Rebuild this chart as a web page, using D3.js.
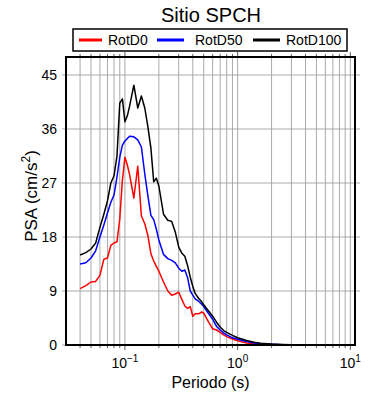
<!DOCTYPE html>
<html>
<head>
<meta charset="utf-8">
<script src="https://cdn.jsdelivr.net/npm/d3@7"></script>
<style>
  body { margin: 0; background: #fff; }
  svg { display: block; font-family: "Liberation Sans", Arial, sans-serif; }
</style>
</head>
<body>
<div id="chart"></div>
<script>

// periods (s) and spectral values
const periods = [0.040, 0.045, 0.050, 0.055, 0.060, 0.065, 0.070, 0.075, 0.080, 0.085,
  0.090, 0.095, 0.100, 0.105, 0.110, 0.120, 0.130, 0.140, 0.150, 0.160,
  0.170, 0.180, 0.190, 0.200, 0.220, 0.240, 0.260, 0.280, 0.300, 0.320,
  0.340, 0.360, 0.380, 0.400, 0.420, 0.450, 0.480, 0.500, 0.550, 0.600,
  0.650, 0.700, 0.750, 0.800, 0.900, 1.0, 1.2, 1.4, 1.6, 2.0,
  2.5, 3.0, 4.0, 5.0, 7.0, 10.0];

const rotD0 = [9.4, 9.9, 10.5, 10.6, 11.6, 14.3, 14.5, 16.6, 17.0, 17.2,
  21.0, 27.5, 31.3, 30.0, 28.4, 24.5, 29.8, 21.5, 20.2, 18.2,
  15.2, 14.0, 13.1, 12.3, 10.5, 9.0, 8.3, 8.5, 8.8, 7.6,
  6.5, 6.1, 6.4, 4.8, 5.2, 5.2, 5.5, 5.3, 3.9, 2.7,
  2.5, 2.1, 1.7, 1.4, 1.0, 0.7, 0.35, 0.18, 0.1, 0.06,
  0.04, 0.03, 0.02, 0.01, 0.01, 0.01];

const rotD50 = [13.5, 13.7, 14.5, 15.7, 18.0, 20.0, 22.0, 23.8, 25.0, 28.0,
  31.3, 33.3, 34.0, 34.4, 34.8, 34.7, 34.2, 33.0, 28.5, 24.8,
  21.6, 20.9, 19.3, 17.5, 15.1, 14.4, 14.1, 13.7, 12.8, 12.3,
  12.5, 11.2, 9.0, 8.3, 7.7, 7.3, 6.8, 6.4, 5.3, 4.3,
  3.1, 2.5, 2.0, 1.7, 1.2, 0.95, 0.6, 0.35, 0.22, 0.12,
  0.06, 0.04, 0.025, 0.015, 0.01, 0.01];

const rotD100 = [15.0, 15.4, 16.0, 17.0, 19.6, 21.8, 24.0, 27.0, 28.2, 31.5,
  40.3, 41.0, 37.2, 38.2, 39.8, 43.3, 39.5, 41.5, 39.5, 36.3,
  32.8, 27.2, 27.8, 26.5, 21.8, 20.8, 20.6, 18.8, 16.3, 15.3,
  14.8, 13.2, 11.3, 9.8, 8.6, 7.8, 7.2, 6.7, 5.7, 4.8,
  3.8, 3.0, 2.4, 2.1, 1.6, 1.2, 0.75, 0.45, 0.3, 0.15,
  0.08, 0.05, 0.03, 0.02, 0.015, 0.01];

const seriesNames = ["RotD0", "RotD50", "RotD100"];
const seriesColors = ["#ff0000", "#0000ff", "#000000"];

const yTicks = [0, 9, 18, 27, 36, 45];
const xMajorTicks = [0.1, 1, 10];
const xMajorExponents = ["\u22121", "0", "1"];
const xGridTicks = [0.04, 0.05, 0.06, 0.07, 0.08, 0.09,
  0.1, 0.2, 0.3, 0.4, 0.5, 0.6, 0.7, 0.8, 0.9,
  1, 2, 3, 4, 5, 6, 7, 8, 9, 10];

const width = 390;
const height = 400;
const margin = { top: 57, right: 35, bottom: 55, left: 66 };
const innerWidth = width - margin.left - margin.right;
const innerHeight = height - margin.top - margin.bottom;

const gridColor = "#a0a0a0";

const svg = d3.select("#chart")
  .append("svg")
    .attr("width", width)
    .attr("height", height);

const xScale = d3.scaleLog()
  .domain([0.03, 11])
  .range([0, innerWidth]);

const yScale = d3.scaleLinear()
  .domain([0, 48])
  .range([innerHeight, 0]);

const innerChart = svg
  .append("g")
    .attr("transform", `translate(${margin.left}, ${margin.top})`);

// grid
innerChart
  .append("g")
    .attr("class", "grid-x")
  .selectAll("line")
  .data(xGridTicks)
  .join("line")
    .attr("x1", d => xScale(d))
    .attr("x2", d => xScale(d))
    .attr("y1", 0)
    .attr("y2", innerHeight)
    .attr("stroke", gridColor)
    .attr("stroke-width", 0.9);

innerChart
  .append("g")
    .attr("class", "grid-y")
  .selectAll("line")
  .data(yTicks.filter(d => d > 0))
  .join("line")
    .attr("x1", -4)            // runs past the frame as a tick on both sides
    .attr("x2", innerWidth + 5)
    .attr("y1", d => yScale(d))
    .attr("y2", d => yScale(d))
    .attr("stroke", gridColor)
    .attr("stroke-width", 0.9);

// small ticks on bottom and top, longer on decades
const xTickGroup = innerChart.append("g").attr("class", "x-ticks");
[[innerHeight, 1], [0, -1]].forEach(([y0, dir]) => {
  xTickGroup
    .append("g")
    .selectAll("line")
    .data(xGridTicks)
    .join("line")
      .attr("x1", d => xScale(d))
      .attr("x2", d => xScale(d))
      .attr("y1", y0)
      .attr("y2", d => y0 + dir * (xMajorTicks.includes(d) ? 5 : 3))
      .attr("stroke", "#333")
      .attr("stroke-width", 0.8);
});

innerChart
  .append("line")
    .attr("x1", -4)
    .attr("x2", 0)
    .attr("y1", yScale(0))
    .attr("y2", yScale(0))
    .attr("stroke", gridColor)
    .attr("stroke-width", 0.9);

// curves
const allSeries = [rotD0, rotD50, rotD100];

const lineGenerator = d3.line()
  .x(d => xScale(d[0]))
  .y(d => yScale(d[1]));

innerChart
  .append("g")
    .attr("class", "curves")
  .selectAll("path")
  .data(allSeries)
  .join("path")
    .attr("d", values => lineGenerator(periods.map((p, i) => [p, values[i]])))
    .attr("fill", "none")
    .attr("stroke", (d, i) => seriesColors[i])
    .attr("stroke-width", 1.5)
    .attr("stroke-linejoin", "round");

// frame
innerChart
  .append("rect")
    .attr("width", innerWidth)
    .attr("height", innerHeight)
    .attr("fill", "none")
    .attr("stroke", "#000")
    .attr("stroke-width", 2);

// y tick labels
innerChart
  .append("g")
  .selectAll("text")
  .data(yTicks)
  .join("text")
    .attr("x", -9)
    .attr("y", d => yScale(d) + 5)
    .attr("text-anchor", "end")
    .attr("font-size", 14)
    .text(d => d);

// x tick labels as 10^n
const xLabels = innerChart
  .append("g")
  .selectAll("text")
  .data(xMajorTicks)
  .join("text")
    .attr("x", d => xScale(d))
    .attr("y", innerHeight + 23)
    .attr("text-anchor", "middle")
    .attr("font-size", 14);

xLabels.append("tspan").text("10");
xLabels.append("tspan")
    .attr("dy", -6)
    .attr("font-size", 10)
    .text((d, i) => xMajorExponents[i]);

// axis titles
svg
  .append("text")
    .attr("x", margin.left + innerWidth / 2)
    .attr("y", 388)
    .attr("text-anchor", "middle")
    .attr("font-size", 16)
    .text("Periodo (s)");

const yTitle = svg
  .append("text")
    .attr("transform", `translate(37, ${margin.top + innerHeight / 2 - 5}) rotate(-90)`)
    .attr("text-anchor", "middle")
    .attr("font-size", 17);

yTitle.append("tspan").text("PSA (cm/s");
yTitle.append("tspan").attr("dy", -7).attr("font-size", 12).text("2");
yTitle.append("tspan").attr("dy", 7).text(")");

// title
svg
  .append("text")
    .attr("x", 211)
    .attr("y", 22)
    .attr("text-anchor", "middle")
    .attr("font-size", 20)
    .text("Sitio SPCH");

// legend box
const legend = svg
  .append("g")
    .attr("class", "legend");

legend
  .append("rect")
    .attr("x", 73)
    .attr("y", 29)
    .attr("width", 274)
    .attr("height", 22)
    .attr("fill", "#fff")
    .attr("stroke", "#000")
    .attr("stroke-width", 1.5);

const legendX = [79, 157, 253];  // start of each swatch

const legendItems = legend
  .selectAll("g.item")
  .data(seriesNames)
  .join("g")
    .attr("class", "item")
    .attr("transform", (d, i) => `translate(${legendX[i]}, 40)`);

legendItems
  .append("line")
    .attr("x1", 0)
    .attr("x2", (d, i) => i === 0 ? 23 : 27)
    .attr("y1", 0)
    .attr("y2", 0)
    .attr("stroke", (d, i) => seriesColors[i])
    .attr("stroke-width", 3);

legendItems
  .append("text")
    .attr("x", (d, i) => [29, 38, 33][i])
    .attr("y", 5)
    .attr("font-size", 14)
    .text(d => d);

</script>
</body>
</html>
